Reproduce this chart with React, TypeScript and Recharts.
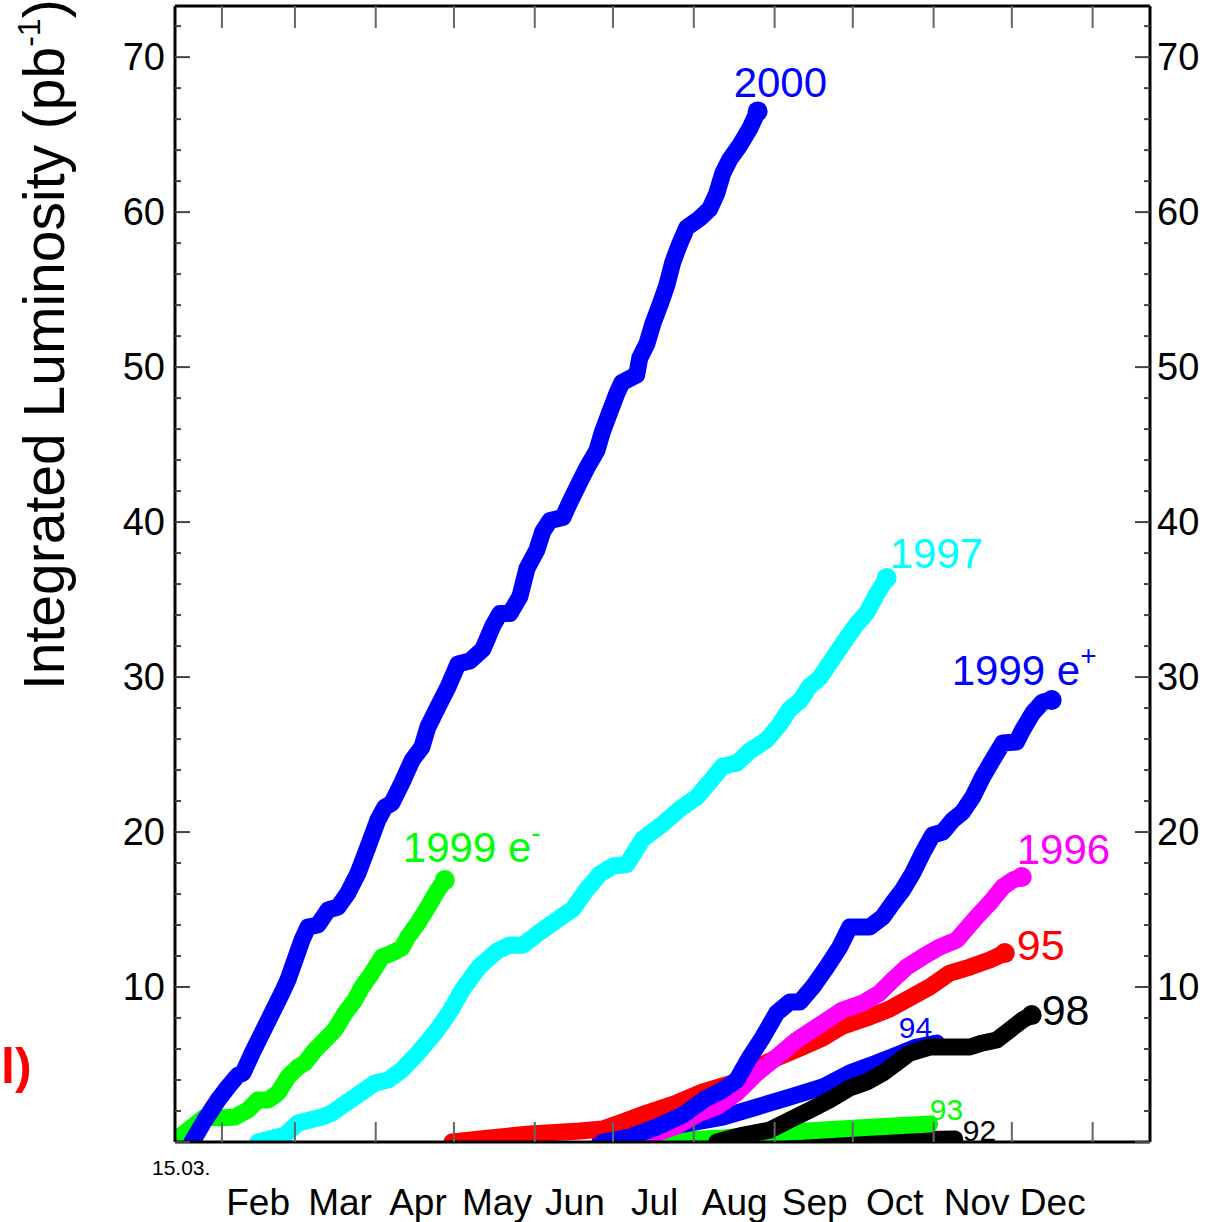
import React from 'react';
import { LineChart, Line, XAxis, YAxis } from 'recharts';

const FONT = '"Liberation Sans", Arial, Helvetica, sans-serif';

// [day of year (1 = 1 Jan), integrated luminosity in pb^-1]
const lumi1992: [number, number][] = [
  [215.3, 0], [253.7, 0.06], [292.0, 0.13], [313.1, 0.2],
];
const lumi1993: [number, number][] = [
  [194.2, 0], [224.1, 0.26], [249.8, 0.65], [275.5, 0.9], [303.5, 1.16],
];
const lumi1994: [number, number][] = [
  [177.0, 0], [192.3, 0.52], [207.6, 1.1], [224.1, 1.61], [237.2, 2.26], [249.8, 2.9],
  [262.5, 3.55], [272.8, 4.45], [283.2, 5.1], [290.8, 5.61], [298.5, 6.13], [306.2, 6.39],
];
const lumi1995: [number, number][] = [
  [120.2, 0], [134.8, 0.26], [150.2, 0.52], [169.3, 0.71], [178.1, 0.84], [184.6, 1.23],
  [195.0, 1.87], [206.5, 2.52], [216.5, 3.23], [228.0, 3.81], [237.2, 4.84], [244.8, 5.42],
  [254.8, 6.13], [262.5, 6.71], [270.1, 7.48], [279.3, 8.0], [288.1, 8.58], [295.8, 9.29],
  [303.5, 10.0], [311.2, 10.9], [318.9, 11.29], [326.5, 11.74], [332.3, 12.19],
];
const lumi1996: [number, number][] = [
  [187.7, 0], [198.0, 0.52], [206.5, 1.03], [215.3, 1.87], [221.8, 2.26], [229.5, 3.16],
  [237.2, 4.45], [244.8, 5.48], [252.5, 6.58], [260.2, 7.42], [270.1, 8.52], [277.8, 8.97],
  [284.3, 9.61], [289.3, 10.45], [294.7, 11.29], [300.8, 11.94], [307.3, 12.58], [313.8, 13.03],
  [321.5, 14.52], [326.5, 15.42], [331.5, 16.45], [335.3, 16.9], [338.8, 17.1],
];
const lumi1997: [number, number][] = [
  [45.8, 0], [56.2, 0.45], [61.2, 1.23], [70.4, 1.61], [74.2, 1.87], [83.0, 2.9],
  [90.7, 3.81], [95.7, 4.0], [101.0, 4.65], [107.2, 5.74], [113.7, 7.03], [119.4, 8.39],
  [124.4, 9.87], [130.9, 11.35], [137.5, 12.32], [142.4, 12.71], [147.4, 12.7], [154.0, 13.55],
  [160.5, 14.32], [166.6, 15.03], [172.0, 16.32], [177.0, 17.29], [182.0, 17.81], [187.3, 17.9],
  [193.4, 19.55], [201.1, 20.52], [207.6, 21.48], [214.2, 22.26], [219.1, 23.23], [224.1, 24.26],
  [229.5, 24.45], [234.5, 25.23], [241.0, 25.94], [246.0, 26.97], [249.8, 27.94], [253.7, 28.45],
  [257.5, 29.42], [261.3, 29.94], [265.1, 30.9], [270.1, 32.13], [275.5, 33.42], [279.3, 34.13],
  [283.2, 35.35], [287.0, 36.39],
];
const lumi1998: [number, number][] = [
  [221.8, 0], [230.6, 0.39], [242.1, 0.77], [249.8, 1.42], [257.5, 2.06], [265.1, 2.71],
  [272.8, 3.48], [279.3, 3.87], [285.5, 4.45], [290.8, 5.1], [295.8, 5.74], [303.5, 6.13],
  [318.9, 6.13], [323.8, 6.39], [329.2, 6.58], [334.2, 7.23], [339.1, 7.87], [342.6, 8.19],
];
const lumi1999em: [number, number][] = [
  [14.0, 0.1], [25.5, 1.61], [32.0, 1.55], [37.0, 1.61], [42.0, 2.06], [45.8, 2.71],
  [49.7, 2.71], [53.5, 3.16], [57.3, 4.19], [61.2, 4.84], [63.8, 5.1], [67.7, 5.94],
  [71.5, 6.58], [75.3, 7.23], [79.2, 8.32], [83.0, 9.16], [85.7, 10.0], [89.5, 10.9],
  [93.4, 11.94], [97.2, 12.19], [101.0, 12.52], [103.3, 13.23], [107.2, 14.13], [111.0, 15.16],
  [114.8, 16.26], [117.5, 16.9],
];
const lumi1999ep: [number, number][] = [
  [178.1, 0], [188.5, 0.32], [198.8, 0.97], [208.8, 1.74], [217.2, 2.77], [224.1, 3.35],
  [229.5, 4.0], [234.5, 5.48], [239.5, 6.77], [244.8, 8.32], [249.8, 9.03], [253.7, 9.03],
  [258.6, 10.0], [264.0, 11.29], [269.0, 12.58], [272.8, 13.87], [280.5, 13.87], [285.5, 14.52],
  [289.3, 15.42], [293.1, 16.26], [297.0, 17.35], [300.8, 18.65], [304.6, 19.81], [308.5, 20.0],
  [312.3, 20.77], [316.1, 21.29], [320.0, 22.26], [323.8, 23.55], [327.6, 24.65], [331.5, 25.74],
  [336.8, 25.81], [339.1, 26.58], [343.0, 27.68], [346.8, 28.39], [350.3, 28.52],
];
const lumi2000: [number, number][] = [
  [20.5, 0], [25.5, 1.42], [30.5, 2.71], [34.3, 3.55], [38.2, 4.32], [40.1, 4.45],
  [43.6, 5.74], [47.4, 7.03], [51.2, 8.32], [55.0, 9.61], [57.3, 10.45], [60.0, 11.74],
  [62.7, 13.03], [65.0, 13.87], [68.8, 14.0], [72.7, 14.97], [76.5, 15.16], [80.3, 16.06],
  [84.2, 17.35], [88.0, 19.03], [91.8, 20.77], [94.5, 21.61], [97.2, 21.87], [101.0, 23.16],
  [105.0, 24.65], [108.7, 25.48], [111.0, 26.77], [114.8, 28.06], [118.7, 29.35], [122.5, 30.84],
  [127.1, 31.03], [132.1, 31.8], [135.9, 33.3], [138.6, 34.1], [142.5, 34.1], [146.3, 35.2],
  [149.0, 37.0], [152.8, 38.2], [155.1, 39.4], [157.8, 40.1], [162.8, 40.3], [165.5, 41.3],
  [169.3, 42.6], [172.0, 43.5], [175.8, 44.6], [178.1, 45.9], [180.8, 47.1], [183.5, 48.3],
  [185.4, 49.0], [191.1, 49.5], [192.3, 50.6], [195.0, 51.5], [197.3, 52.8], [200.0, 54.0],
  [202.7, 55.3], [205.0, 56.8], [207.7, 58.0], [210.3, 59.0], [215.3, 59.6], [219.1, 60.2],
  [221.8, 61.2], [224.1, 62.5], [226.8, 63.4], [230.6, 64.3], [234.5, 65.4], [237.5, 66.5],
];

const monthStarts = [32, 60, 91, 121, 152, 182, 213, 244, 274, 305, 335, 366];
const monthMids = [45.9, 77.3, 107.2, 137.5, 167.4, 198.0, 228.7, 259.4, 290.1, 321.5, 350.7];
const monthNames = ['Feb', 'Mar', 'Apr', 'May', 'Jun', 'Jul', 'Aug', 'Sep', 'Oct', 'Nov', 'Dec'];
const yTicks = [0, 2, 4, 6, 8, 10, 12, 14, 16, 18, 20, 22, 24, 26, 28, 30, 32, 34, 36, 38, 40,
  42, 44, 46, 48, 50, 52, 54, 56, 58, 60, 62, 64, 66, 68, 70, 72];

const BLUE = '#0000ff';

// drawn in this order (later on top)
const series = [
  { key: '92', rows: lumi1992, color: '#000', label: '92', sup: '', dx: 8, dy: 2, size: 30, dotR: 0 },
  { key: '93', rows: lumi1993, color: '#00ff00', label: '93', sup: '', dx: 0, dy: -4, size: 30, dotR: 0 },
  { key: '94', rows: lumi1994, color: BLUE, label: '94', sup: '', dx: -38, dy: -5, size: 30, dotR: 0 },
  { key: '95', rows: lumi1995, color: '#ff0000', label: '95', sup: '', dx: 12, dy: 7, size: 43, dotR: 10 },
  { key: '96', rows: lumi1996, color: '#ff00ff', label: '1996', sup: '', dx: -5, dy: -13, size: 42, dotR: 10 },
  { key: '97', rows: lumi1997, color: '#00ffff', label: '1997', sup: '', dx: 3, dy: -10, size: 42, dotR: 10 },
  { key: '98', rows: lumi1998, color: '#000', label: '98', sup: '', dx: 10, dy: 10, size: 43, dotR: 10 },
  { key: '99m', rows: lumi1999em, color: '#00ff00', label: '1999 e', sup: '-', dx: -42, dy: -18, size: 42, dotR: 10 },
  { key: '99p', rows: lumi1999ep, color: BLUE, label: '1999 e', sup: '+', dx: -100, dy: -15, size: 42, dotR: 10 },
  { key: '00', rows: lumi2000, color: BLUE, label: '2000', sup: '', dx: -24, dy: -14, size: 42, dotR: 10 },
];

type Series = (typeof series)[number];

const makeEndDot = (s: Series) => (props: any) => {
  const { cx, cy, index } = props;
  if (index !== s.rows.length - 1) return <g key={`d-${s.key}-${index}`} />;
  return (
    <g key={`d-${s.key}-${index}`}>
      {s.dotR > 0 && <circle cx={cx} cy={cy} r={s.dotR} fill={s.color} />}
      <text x={cx + s.dx} y={cy + s.dy} fill={s.color} fontSize={s.size} fontFamily={FONT}>
        {s.label}
        {s.sup && (
          <tspan dy={-20} fontSize={28}>
            {s.sup}
          </tspan>
        )}
      </text>
    </g>
  );
};

const BottomTick = ({ x, y }: any) => (
  <line x1={x} x2={x} y1={y} y2={y - 20} stroke="#666" strokeWidth={2} />
);
const TopTick = ({ x, y }: any) => (
  <line x1={x} x2={x} y1={y} y2={y + 22} stroke="#666" strokeWidth={2} />
);
const MonthLabel = ({ x, y, payload }: any) => (
  <text x={x} y={y + 72} textAnchor="middle" fontSize={37} fontFamily={FONT} fill="#000">
    {monthNames[monthMids.indexOf(payload.value)]}
  </text>
);
const LeftTick = ({ x, y, payload }: any) => {
  const major = payload.value % 10 === 0;
  return (
    <g>
      <line x1={x} x2={x + (major ? 15 : 6)} y1={y} y2={y} stroke="#444" strokeWidth={2} />
      {major && payload.value > 0 && (
        <text x={x - 10} y={y + 13} textAnchor="end" fontSize={38} fontFamily={FONT} fill="#000">
          {payload.value}
        </text>
      )}
    </g>
  );
};
const RightTick = ({ x, y, payload }: any) => {
  const major = payload.value % 10 === 0;
  return (
    <g>
      <line x1={x} x2={x - (major ? 15 : 6)} y1={y} y2={y} stroke="#444" strokeWidth={2} />
      {major && payload.value > 0 && (
        <text x={x + 7} y={y + 13} textAnchor="start" fontSize={38} fontFamily={FONT} fill="#000">
          {payload.value}
        </text>
      )}
    </g>
  );
};

const frame = { stroke: '#000', strokeWidth: 3 };

export default function App() {
  return (
    <div style={{ position: 'absolute', left: 0, top: 0, width: 1206, height: 1222, background: '#fff' }}>
      <LineChart width={1206} height={1222} margin={{ top: 5, right: 55, bottom: 78, left: 174 }}>
        <XAxis
          type="number"
          dataKey="day"
          domain={[14, 388]}
          ticks={monthStarts}
          interval={0}
          allowDataOverflow
          height={1}
          tickSize={0}
          tickMargin={0}
          tickLine={false}
          axisLine={frame}
          tick={<BottomTick />}
        />
        <XAxis
          xAxisId="top"
          orientation="top"
          type="number"
          dataKey="day"
          domain={[14, 388]}
          ticks={monthStarts}
          interval={0}
          allowDataOverflow
          height={1}
          tickSize={0}
          tickMargin={0}
          tickLine={false}
          axisLine={frame}
          tick={<TopTick />}
        />
        <XAxis
          xAxisId="months"
          type="number"
          dataKey="day"
          domain={[14, 388]}
          ticks={monthMids}
          interval={0}
          allowDataOverflow
          height={1}
          tickSize={0}
          tickMargin={0}
          tickLine={false}
          axisLine={false}
          tick={<MonthLabel />}
        />
        <YAxis
          type="number"
          domain={[0, 73.3]}
          ticks={yTicks}
          interval={0}
          allowDataOverflow
          width={1}
          tickSize={0}
          tickMargin={0}
          tickLine={false}
          axisLine={frame}
          tick={<LeftTick />}
        />
        <YAxis
          yAxisId="right"
          orientation="right"
          type="number"
          domain={[0, 73.3]}
          ticks={yTicks}
          interval={0}
          allowDataOverflow
          width={1}
          tickSize={0}
          tickMargin={0}
          tickLine={false}
          axisLine={frame}
          tick={<RightTick />}
        />
        {series.map((s) => (
          <Line
            key={s.key}
            data={s.rows.map(([day, lumi]) => ({ day, lumi }))}
            dataKey="lumi"
            type="linear"
            stroke={s.color}
            strokeWidth={17}
            strokeLinecap="round"
            strokeLinejoin="round"
            dot={makeEndDot(s)}
            activeDot={false}
            isAnimationActive={false}
          />
        ))}
      </LineChart>
      <svg
        width={1206}
        height={1222}
        style={{ position: 'absolute', left: 0, top: 0, pointerEvents: 'none' }}
      >
        <text transform="translate(64,690) rotate(-90)" fontSize={57} fontFamily={FONT} fill="#000">
          Integrated Luminosity (pb
          <tspan dy={-24} fontSize={32}>
            -1
          </tspan>
          <tspan dy={24}>)</tspan>
        </text>
        <text x={152} y={1175} fontSize={21} fontFamily={FONT} fill="#000">
          15.03.
        </text>
        <text x={1} y={1083} fontSize={50} fontWeight="bold" fontFamily={FONT} fill="#ff0000">
          l)
        </text>
      </svg>
    </div>
  );
}
